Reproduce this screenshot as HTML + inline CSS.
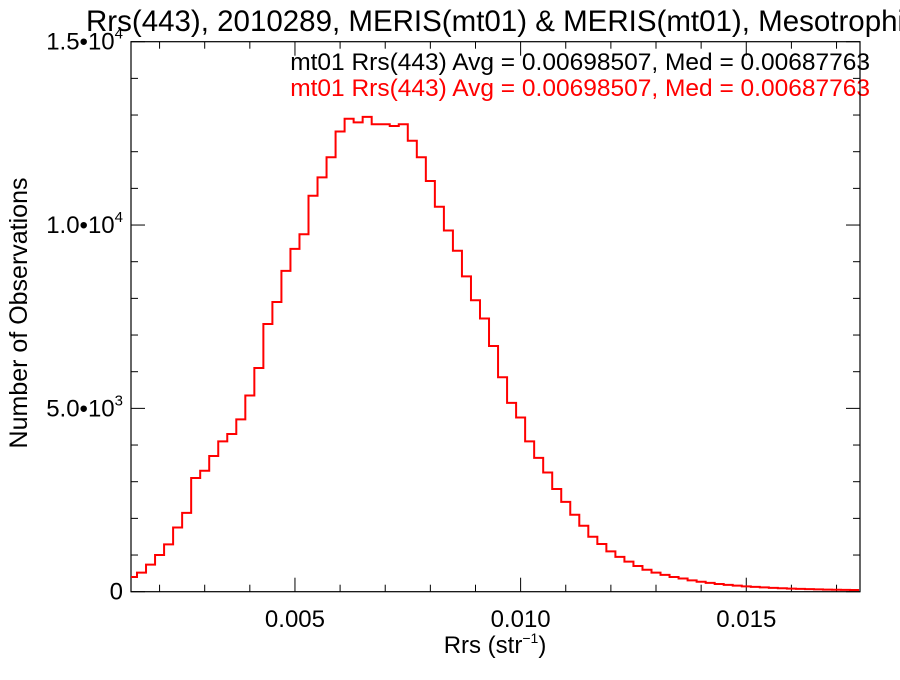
<!DOCTYPE html>
<html><head><meta charset="utf-8"><style>
body{margin:0;background:#fff;overflow:hidden}
svg text{font-family:"Liberation Sans",sans-serif}
</style></head><body>
<svg id="chart" width="900" height="675" viewBox="0 0 900 675" xmlns="http://www.w3.org/2000/svg">
<rect width="900" height="675" fill="#fff"/>
<text x="86" y="31" font-size="29.5" fill="#000">Rrs(443), 2010289, MERIS(mt01) &amp; MERIS(mt01), Mesotrophic</text>
<text x="870" y="70" font-size="24.5" text-anchor="end" fill="#000">mt01 Rrs(443) Avg = 0.00698507, Med = 0.00687763</text>
<text x="870" y="96" font-size="24.5" text-anchor="end" fill="#f00">mt01 Rrs(443) Avg = 0.00698507, Med = 0.00687763</text>
<g id="axes"></g>
<path id="hist" fill="none" stroke="#f00" stroke-width="2"/>
<text x="495" y="653" font-size="24" text-anchor="middle">Rrs (str<tspan font-size="14" dy="-10">−1</tspan><tspan dy="10">)</tspan></text>
<text transform="translate(27,313) rotate(-90)" font-size="25" text-anchor="middle">Number of Observations</text>
</svg>
<script>
const binCenters = [0.0014,0.0016,0.0018,0.0020,0.0022,0.0024,0.0026,0.0028,0.0030,0.0032,0.0034,0.0036,0.0038,0.0040,0.0042,0.0044,0.0046,0.0048,0.0050,0.0052,0.0054,0.0056,0.0058,0.0060,0.0062,0.0064,0.0066,0.0068,0.0070,0.0072,0.0074,0.0076,0.0078,0.0080,0.0082,0.0084,0.0086,0.0088,0.0090,0.0092,0.0094,0.0096,0.0098,0.0100,0.0102,0.0104,0.0106,0.0108,0.0110,0.0112,0.0114,0.0116,0.0118,0.0120,0.0122,0.0124,0.0126,0.0128,0.0130,0.0132,0.0134,0.0136,0.0138,0.0140,0.0142,0.0144,0.0146,0.0148,0.0150,0.0152,0.0154,0.0156,0.0158,0.0160,0.0162,0.0164,0.0166,0.0168,0.0170,0.0172,0.0174];
const counts = [400,520,740,1000,1290,1750,2150,3100,3300,3700,4100,4300,4700,5350,6100,7300,7900,8750,9350,9750,10800,11300,11850,12550,12900,12800,12950,12750,12750,12700,12750,12300,11850,11200,10500,9850,9300,8600,7950,7450,6700,5850,5150,4750,4100,3650,3250,2800,2450,2100,1800,1500,1300,1100,950,820,700,600,520,460,400,360,310,270,240,210,185,165,145,130,118,105,95,85,78,70,64,58,54,50,46];
const xTickValues = [0.005,0.010,0.015];
const xTickLabels = ["0.005","0.010","0.015"];
const yTickValues = [0,5000,10000,15000];
const yTickMant = ["0","5.0","1.0","1.5"];
const yTickExp = ["","3","4","4"];

const X0=131,X1=860,Y0=591.7,Y1=41.7;
const xMin=0.001367,xMax=0.017520,yMin=0,yMax=15000;
const sx=v=>X0+(v-xMin)/(xMax-xMin)*(X1-X0);
const sy=v=>Y0-(v-yMin)/(yMax-yMin)*(Y0-Y1);
const NS="http://www.w3.org/2000/svg";
const axes=document.getElementById('axes');
function mk(tag,attrs,parent){const e=document.createElementNS(NS,tag);for(const k in attrs)e.setAttribute(k,attrs[k]);(parent||axes).appendChild(e);return e;}

const frame=mk('rect',{x:X0,y:Y1,width:X1-X0,height:Y0-Y1,fill:'none',stroke:'#000','stroke-width':1.2});



for(let k=2;k<=17;k++){
  const v=k*0.001, x=sx(v);
  const major=(k%5===0);
  const L=major?14:7;
  const t1=mk('line',{x1:x,y1:Y0,x2:x,y2:Y0-L,stroke:'#000','stroke-width':1});
  
  
  const t2=mk('line',{x1:x,y1:Y1,x2:x,y2:Y1+L,stroke:'#000','stroke-width':1});
  
  
}
xTickValues.forEach((v,i)=>{
  const t=mk('text',{x:sx(v),y:627,'font-size':24,'text-anchor':'middle'});
  t.textContent=xTickLabels[i];
  
  
});
for(let k=0;k<=15;k++){
  const v=k*1000,y=sy(v);
  const major=(k%5===0);
  const L=major?14:7;
  const t1=mk('line',{x1:X0,y1:y,x2:X0+L,y2:y,stroke:'#000','stroke-width':1});
  
  
  const t2=mk('line',{x1:X1,y1:y,x2:X1-L,y2:y,stroke:'#000','stroke-width':1});
  
  
}
yTickValues.forEach((v,i)=>{
  const t=mk('text',{x:123,y:sy(v)+8,'font-size':24,'text-anchor':'end'});
  if(yTickExp[i]){
    t.textContent=yTickMant[i]+'•10';
    const s=document.createElementNS(NS,'tspan');
    s.setAttribute('font-size','15');s.setAttribute('dy','-11');
    s.textContent=yTickExp[i];t.appendChild(s);
  } else t.textContent=yTickMant[i];
  
  
});

const bw=binCenters[1]-binCenters[0];
let d='';
binCenters.forEach((c,i)=>{
  const xa=Math.max(X0,sx(c-bw/2)), xb=Math.min(X1,sx(c+bw/2)), y=sy(counts[i]);
  d+=(i===0?'M'+xa+','+y:'L'+xa+','+y)+'L'+xb+','+y;
});
document.getElementById('hist').setAttribute('d',d);
</script>
</body></html>
